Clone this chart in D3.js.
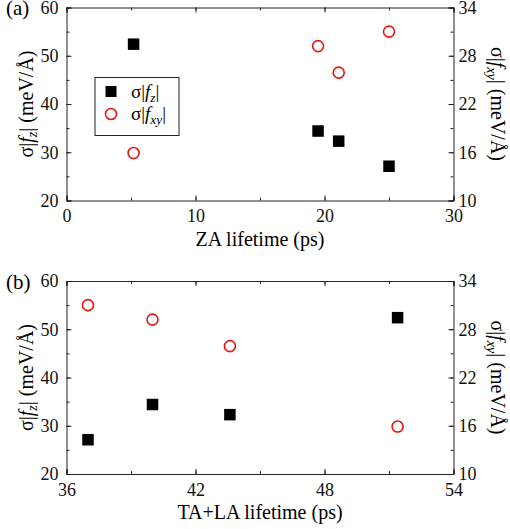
<!DOCTYPE html>
<html lang="en">
<head>
<meta charset="utf-8">
<title>sigma f vs lifetime</title>
<script src="https://d3js.org/d3.v7.js"></script>
<style>
    body { margin: 0; background: #fff; }
    svg { display: block; font-family: "Liberation Serif", "Times New Roman", serif; }
    .axis path, .axis line { stroke: #222; stroke-width: 1px; }
    .axis text { font-size: 18px; fill: #111; font-family: "Liberation Serif", serif; }
</style>
</head>
<body>
<svg width="510" height="529"></svg>
<script>
    // data
    const zaLifetime = [5.2, 19.5, 21.1, 25.0];
    const talaLifetime = [51.4, 40.0, 43.6, 37.0];
    const sigmaFz = [52.4, 34.4, 32.3, 27.1];
    const sigmaFxy = [15.9, 29.2, 25.9, 31.0];

    const leftTicks = [20, 30, 40, 50, 60];
    const rightTicks = [10, 16, 22, 28, 34];
    const zaTicks = [0, 10, 20, 30];
    const talaTicks = [36, 42, 48, 54];

    const svg = d3.select("svg");
    const plotLeft = 66.5, plotRight = 453.5;

    // writes σ|f_sub| into a text element
    function sigmaLabel(sel, sub, tail) {
        sel.append("tspan").text("σ|");
        sel.append("tspan").attr("font-style", "italic").text("f");
        sel.append("tspan").attr("font-style", "italic").attr("font-size", "0.7em").attr("dy", 4).text(sub);
        sel.append("tspan").attr("dy", -4).text("|" + (tail || ""));
    }

    function panel(opts) {
        let g = svg.append("g");
        let x = d3.scaleLinear().domain(opts.xDomain).range([plotLeft, plotRight]);
        let yL = d3.scaleLinear().domain([20, 60]).range([opts.bottom, opts.top]);
        let yR = d3.scaleLinear().domain([10, 34]).range([opts.bottom, opts.top]);

        let xMinor = d3.range(opts.xDomain[0], opts.xDomain[1] + 0.01, opts.xStep / 2);
        let yLMinor = d3.range(20, 60.01, 5);
        let yRMinor = d3.range(10, 34.01, 3);

        // minor ticks
        g.append("g").attr("class", "axis").attr("transform", `translate(0,${opts.bottom})`)
            .call(d3.axisBottom(x).tickValues(xMinor).tickSize(-3).tickFormat(""))
            .call(a => a.select(".domain").remove());
        g.append("g").attr("class", "axis").attr("transform", `translate(0,${opts.top})`)
            .call(d3.axisTop(x).tickValues(xMinor).tickSize(-3).tickFormat(""))
            .call(a => a.select(".domain").remove());
        g.append("g").attr("class", "axis").attr("transform", `translate(${plotLeft},0)`)
            .call(d3.axisLeft(yL).tickValues(yLMinor).tickSize(-3).tickFormat(""))
            .call(a => a.select(".domain").remove());
        g.append("g").attr("class", "axis").attr("transform", `translate(${plotRight},0)`)
            .call(d3.axisRight(yR).tickValues(yRMinor).tickSize(-3).tickFormat(""))
            .call(a => a.select(".domain").remove());

        // major ticks
        g.append("g").attr("class", "axis").attr("transform", `translate(0,${opts.bottom})`)
            .call(d3.axisBottom(x).tickValues(opts.xTicks).tickSize(-5).tickPadding(9).tickFormat(d3.format("d")));
        g.append("g").attr("class", "axis").attr("transform", `translate(0,${opts.top})`)
            .call(d3.axisTop(x).tickValues(opts.xTicks).tickSize(-5).tickFormat(""));
        g.append("g").attr("class", "axis").attr("transform", `translate(${plotLeft},0)`)
            .call(d3.axisLeft(yL).tickValues(leftTicks).tickSize(-5).tickPadding(8).tickFormat(d3.format("d")));
        g.append("g").attr("class", "axis").attr("transform", `translate(${plotRight},0)`)
            .call(d3.axisRight(yR).tickValues(rightTicks).tickSize(-5).tickPadding(5).tickFormat(d3.format("d")));

        // points
        let sq = 11.5;
        g.selectAll("rect.fz").data(opts.xs).join("rect")
            .attr("class", "fz")
            .attr("x", (d) => x(d) - sq / 2)
            .attr("y", (d, i) => yL(sigmaFz[i]) - sq / 2)
            .attr("width", sq).attr("height", sq)
            .attr("fill", "#000");
        g.selectAll("circle.fxy").data(opts.xs).join("circle")
            .attr("class", "fxy")
            .attr("cx", (d) => x(d))
            .attr("cy", (d, i) => yR(sigmaFxy[i]))
            .attr("r", 5.5)
            .attr("fill", "none")
            .attr("stroke", "#ee1111")
            .attr("stroke-width", 1.6);

        // titles
        g.append("text").attr("x", 6).attr("y", opts.top + 7.5)
            .attr("font-size", "21px").text(opts.tag);
        g.append("text").attr("x", (plotLeft + plotRight) / 2).attr("y", opts.bottom + 45)
            .attr("text-anchor", "middle").attr("font-size", "20px").text(opts.xTitle);

        let mid = (opts.top + opts.bottom) / 2;
        let lt = g.append("text").attr("text-anchor", "middle").attr("font-size", "20px")
            .attr("transform", `translate(33,${mid}) rotate(-90)`);
        sigmaLabel(lt, "z", " (meV/Å)");
        let rt = g.append("text").attr("text-anchor", "middle").attr("font-size", "20px")
            .attr("transform", `translate(491,${mid}) rotate(90)`);
        sigmaLabel(rt, "xy", " (meV/Å)");

        return g;
    }

    let panelA = panel({
        top: 7.5, bottom: 200.5, xDomain: [0, 30], xStep: 10, xTicks: zaTicks, xs: zaLifetime,
        tag: "(a)", xTitle: "ZA lifetime (ps)"
    });
    panel({
        top: 281, bottom: 474, xDomain: [36, 54], xStep: 6, xTicks: talaTicks, xs: talaLifetime,
        tag: "(b)", xTitle: "TA+LA lifetime (ps)"
    });

    // legend in panel (a)
    let lg = panelA.append("g");
    lg.append("rect").attr("x", 95).attr("y", 77.5).attr("width", 84).attr("height", 58)
        .attr("fill", "#fff").attr("stroke", "#222").attr("stroke-width", 1);
    lg.append("rect").attr("x", 105.5).attr("y", 86).attr("width", 11).attr("height", 11).attr("fill", "#000");
    lg.append("circle").attr("cx", 111).attr("cy", 114).attr("r", 5.5)
        .attr("fill", "none").attr("stroke", "#ee1111").attr("stroke-width", 1.6);
    sigmaLabel(lg.append("text").attr("x", 131).attr("y", 98).attr("font-size", "19px"), "z");
    sigmaLabel(lg.append("text").attr("x", 131).attr("y", 120).attr("font-size", "19px"), "xy");
</script>
</body>
</html>
